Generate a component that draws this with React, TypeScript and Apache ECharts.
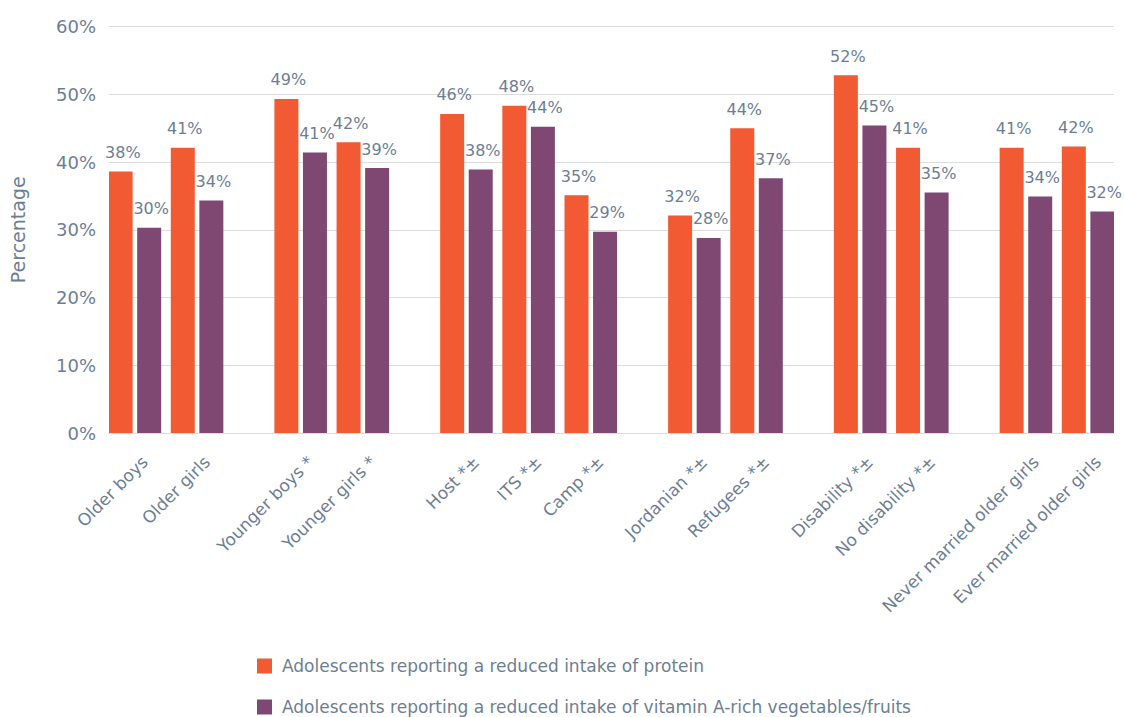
import React, { useEffect, useRef } from "react";
import * as echarts from "echarts";

// ---- data ----
const categories = [
  "Older boys",
  "Older girls",
  "Younger boys *",
  "Younger girls *",
  "Host *±",
  "ITS *±",
  "Camp *±",
  "Jordanian *±",
  "Refugees *±",
  "Disability *±",
  "No disability *±",
  "Never married older girls",
  "Ever married older girls",
];
const groupSizes = [2, 2, 3, 2, 2, 2];

// bar heights as drawn (%)
const protein = [38.6, 42.1, 49.3, 42.9, 47.1, 48.3, 35.1, 32.1, 45.0, 52.8, 42.1, 42.1, 42.3];
const vitaminA = [30.3, 34.3, 41.4, 39.1, 38.9, 45.2, 29.7, 28.8, 37.6, 45.4, 35.5, 34.9, 32.7];
// value labels as printed
const proteinLabels = [38, 41, 49, 42, 46, 48, 35, 32, 44, 52, 41, 41, 42];
const vitaminALabels = [30, 34, 41, 39, 38, 44, 29, 28, 37, 45, 35, 34, 32];

const yTicks = [0, 10, 20, 30, 40, 50, 60];
const seriesNames = [
  "Adolescents reporting a reduced intake of protein",
  "Adolescents reporting a reduced intake of vitamin A-rich vegetables/fruits",
];

// ---- layout of slots on a fine category axis ----
const SLOTS_PER_CAT = 6;
const SLOTS_PER_GROUP_GAP = 10;
const EDGE_SLOTS = 2;

function buildSlots() {
  const slotOfCat: number[] = [];
  let p = EDGE_SLOTS;
  groupSizes.forEach((size, gi) => {
    for (let k = 0; k < size; k++) {
      slotOfCat.push(p);
      if (k < size - 1) p += SLOTS_PER_CAT;
    }
    if (gi < groupSizes.length - 1) p += SLOTS_PER_GROUP_GAP;
  });
  const n = p + 1 + EDGE_SLOTS;
  const labels: string[] = new Array(n).fill("");
  const catOfSlot: number[] = new Array(n).fill(-1);
  slotOfCat.forEach((s, i) => {
    labels[s] = categories[i];
    catOfSlot[s] = i;
  });
  const mk = (vals: number[]) =>
    catOfSlot.map((c) => (c >= 0 ? vals[c] : null));
  return { labels, catOfSlot, proteinData: mk(protein), vitaminData: mk(vitaminA) };
}

const TEXT = "#6D7E94";
const FONT = "'DejaVu Sans', sans-serif";

export default function App() {
  const ref = useRef<HTMLDivElement>(null);
  useEffect(() => {
    document.body.style.margin = "0";
    if (!ref.current) return;
    const chart = echarts.init(ref.current, undefined, { renderer: "svg" });
    const { labels, catOfSlot, proteinData, vitaminData } = buildSlots();
    const labelCfg = (arr: number[]) => ({
      show: true,
      position: "top" as const,
      distance: 11,
      offset: [2, 0],
      color: TEXT,
      fontSize: 16,
      fontFamily: FONT,
      formatter: (p: any) => {
        const c = catOfSlot[p.dataIndex];
        return c >= 0 ? arr[c] + "%" : "";
      },
    });
    chart.setOption({
      animation: false,
      textStyle: { fontFamily: FONT },
      grid: { left: 109, right: 10, top: 26.5, bottom: 284 },
      legend: {
        orient: "vertical",
        left: 257,
        top: 656,
        height: 100,
        padding: 0,
        icon: "rect",
        itemWidth: 15,
        itemHeight: 15,
        itemGap: 21,
        textStyle: {
          color: TEXT,
          fontSize: 17,
          lineHeight: 20,
          fontFamily: FONT,
          padding: [0, 0, 0, 5],
        },
        data: seriesNames,
      },
      xAxis: {
        type: "category",
        data: labels,
        boundaryGap: true,
        axisLine: { show: true, lineStyle: { color: "#dcdcdc", width: 1 } },
        axisTick: { show: false },
        axisLabel: {
          interval: 0,
          rotate: 45,
          margin: 16,
          verticalAlign: "top",
          lineHeight: 28,
          color: TEXT,
          fontSize: 17,
          fontFamily: FONT,
        },
      },
      yAxis: {
        type: "value",
        min: yTicks[0],
        max: yTicks[yTicks.length - 1],
        interval: 10,
        name: "Percentage",
        nameLocation: "middle",
        nameGap: 82,
        nameTextStyle: { color: TEXT, fontSize: 19, fontFamily: FONT },
        axisLine: { show: false },
        axisTick: { show: false },
        axisLabel: {
          margin: 13,
          color: TEXT,
          fontSize: 18,
          fontFamily: FONT,
          formatter: (v: number) => v + "%",
        },
        splitLine: { lineStyle: { color: "#dcdcdc", width: 1 } },
      },
      series: [
        {
          name: seriesNames[0],
          type: "bar",
          data: proteinData,
          barWidth: 24,
          barGap: "19%",
          itemStyle: { color: "#F15A33" },
          label: labelCfg(proteinLabels),
        },
        {
          name: seriesNames[1],
          type: "bar",
          data: vitaminData,
          barWidth: 24,
          barGap: "19%",
          itemStyle: { color: "#7F4872" },
          label: labelCfg(vitaminALabels),
        },
      ],
    });
    return () => chart.dispose();
  }, []);
  return <div ref={ref} style={{ width: 1124, height: 717 }} />;
}
